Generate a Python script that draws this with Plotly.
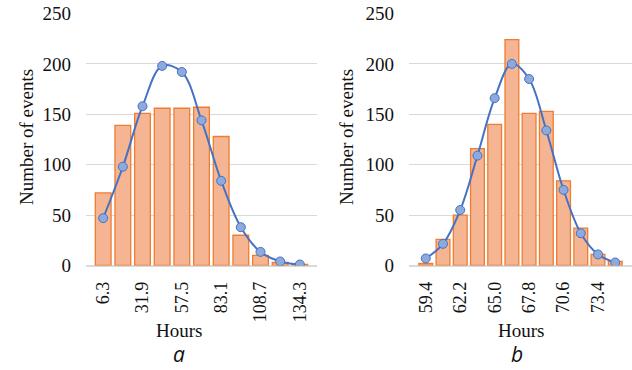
import plotly.graph_objects as go

# ---- data (a) ----
hours_a = ["6.3", "19.1", "31.9", "44.7", "57.5", "70.3", "83.1", "95.9", "108.7", "121.5", "134.3"]
events_a = [72, 139, 151, 156, 156, 157, 128, 30, 10, 3, 1]
fit_a = [47, 98, 158, 198, 192, 144, 84, 38, 13.5, 4, 1]
ticks_a = ["6.3", "31.9", "57.5", "83.1", "108.7", "134.3"]

# ---- data (b) ----
hours_b = ["59.4", "60.8", "62.2", "63.6", "65.0", "66.4", "67.8", "69.2", "70.6", "72.0", "73.4", "74.8"]
events_b = [2, 26, 50, 116, 140, 224, 151, 153, 84, 37, 11, 4]
fit_b = [7, 21.5, 55, 109, 166, 200, 185, 134, 75, 32, 11, 3]
ticks_b = ["59.4", "62.2", "65.0", "67.8", "70.6", "73.4"]

y_ticks = [0, 50, 100, 150, 200, 250]

W, H = 632, 370
BAR_FILL = "#F6B592"
BAR_LINE = "#ED7D31"
LINE_C = "#4472C4"
MARK_C = "#8EA9DB"
FONT = "Liberation Serif"
TXT = "#111111"

fig = go.Figure()

def add_panel(cats, vals, fit, xa, ya):
    fig.add_trace(go.Bar(x=cats, y=vals, xaxis=xa, yaxis=ya,
                         marker=dict(color=BAR_FILL, line=dict(color=BAR_LINE, width=1.3)),
                         showlegend=False, hoverinfo="skip"))
    fig.add_trace(go.Scatter(x=cats, y=fit, xaxis=xa, yaxis=ya, mode="lines+markers",
                             line=dict(color=LINE_C, width=2, shape="spline", smoothing=1.0),
                             marker=dict(size=9, color=MARK_C, line=dict(color=LINE_C, width=1)),
                             showlegend=False, hoverinfo="skip"))

add_panel(hours_a, events_a, fit_a, "x", "y")
add_panel(hours_b, events_b, fit_b, "x2", "y2")

ydom = [1 - 265.5 / H, 1 - 13.5 / H]

def xaxis(dom, ticks, anchor):
    return dict(domain=dom, type="category", anchor=anchor, tickvals=ticks, ticktext=ticks,
                tickangle=-90, tickfont=dict(family=FONT, size=18, color=TXT),
                showgrid=False, showline=True, linecolor="#D9D9D9", linewidth=1,
                ticks="", ticklabelstandoff=8, fixedrange=True, automargin=False)

def yaxis(anchor):
    return dict(domain=ydom, anchor=anchor, range=[0, 250], tickvals=y_ticks,
                tickfont=dict(family=FONT, size=19, color=TXT),
                showgrid=True, gridcolor="#D9D9D9", gridwidth=1,
                zeroline=True, zerolinecolor="#D9D9D9", zerolinewidth=1,
                showline=False, ticks="", ticklabelstandoff=14, fixedrange=True,
                automargin=False)

fig.update_layout(
    width=W, height=H,
    margin=dict(l=0, r=0, t=0, b=0, autoexpand=False),
    paper_bgcolor="white", plot_bgcolor="white",
    bargap=0.2,
    xaxis=xaxis([86 / W, 317 / W], ticks_a, "y"),
    yaxis=yaxis("x"),
    xaxis2=xaxis([409 / W, 1.0], ticks_b, "y2"),
    yaxis2=yaxis("x2"),
)

def txt(x, y, s, size, family=FONT, angle=0, italic=False):
    fig.add_annotation(x=x / W, y=1 - y / H, xref="paper", yref="paper", text=s,
                       showarrow=False, textangle=angle, xanchor="center", yanchor="middle",
                       font=dict(family=family, size=size, color=TXT,
                                 style="italic" if italic else "normal"))

txt(26, 137, "Number of events", 19, angle=-90)
txt(346, 137, "Number of events", 19, angle=-90)
txt(179, 330, "Hours", 19)
txt(521, 330, "Hours", 19)
txt(179, 354, "a", 21, family="Open Sans", italic=True)
txt(517, 354, "b", 21, family="Open Sans", italic=True)

fig.write_html("out.html")
